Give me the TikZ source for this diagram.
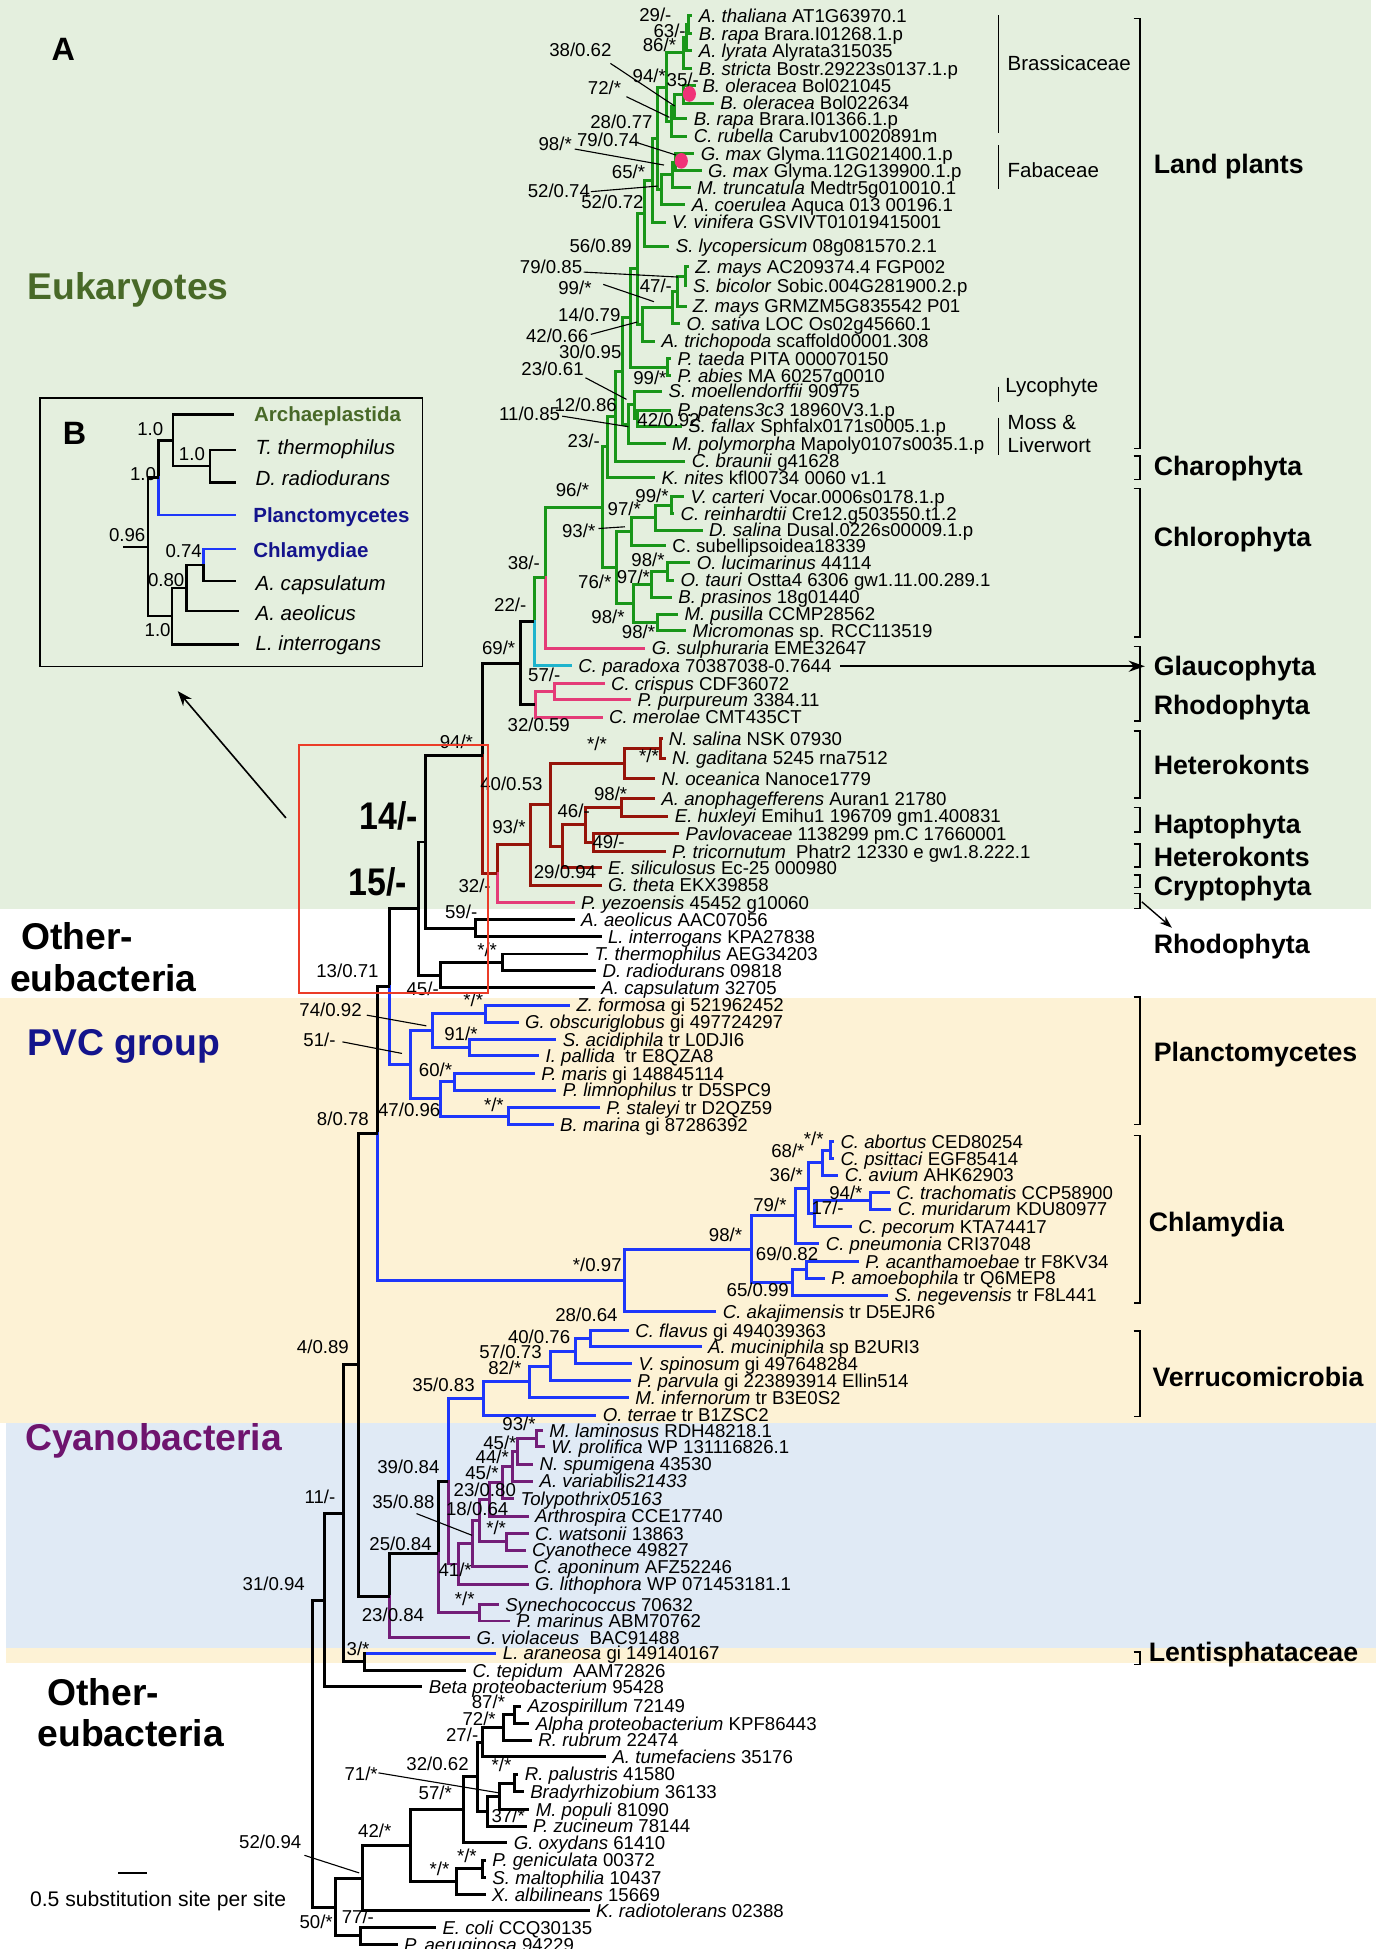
\documentclass[tikz,border=0pt]{standalone}
\usepackage{fontspec}
\usepackage{graphicx}
\setmainfont{Liberation Sans}
\usetikzlibrary{arrows.meta}
\definecolor{bggreen}{RGB}{228,239,222}
\definecolor{bgcream}{RGB}{253,242,213}
\definecolor{bgblue}{RGB}{224,234,245}
\definecolor{cgreen}{RGB}{25,150,25}
\definecolor{cpink}{RGB}{228,60,120}
\definecolor{ccyan}{RGB}{30,180,205}
\definecolor{cred}{RGB}{150,20,10}
\definecolor{cblue}{RGB}{30,55,250}
\definecolor{cpurple}{RGB}{115,30,120}
\definecolor{teuk}{RGB}{72,105,40}
\definecolor{tpvc}{RGB}{20,20,140}
\definecolor{tcyano}{RGB}{110,20,110}
\definecolor{cbox}{RGB}{235,60,40}
\definecolor{cdot}{RGB}{240,50,120}
\tikzset{
  br/.style={line width=2.4pt, line cap=butt},
  vbs/.style={line width=2.4pt, line cap=rect},
  tl/.style={anchor=west, inner xsep=4pt, inner ysep=0pt, text height=10.8pt, text depth=0pt, font=\fontsize{15}{17}\selectfont, text=black},
  sl/.style={anchor=west, inner sep=0pt, text height=10.8pt, text depth=0pt, font=\fontsize{15}{17}\selectfont},
  ldr/.style={line width=0.9pt, black},
  brks/.style={line width=1.1pt, black},
  grp/.style={anchor=west, inner sep=0pt, text height=15.5pt, text depth=0pt, font=\fontsize{21.5}{25}\selectfont\bfseries},
  sgrp/.style={anchor=west, inner sep=0pt, text height=11.8pt, text depth=0pt, font=\fontsize{16.5}{19}\selectfont},
  big/.style={anchor=west, inner sep=0pt, text height=21.6pt, text depth=0pt, font=\fontsize{30}{34}\selectfont\bfseries},
  bold14/.style={anchor=west, inner sep=0pt, text height=22pt, text depth=0pt, font=\fontsize{31}{34}\selectfont\bfseries},
  ins/.style={anchor=west, inner sep=0pt, text height=11.8pt, text depth=0pt, font=\fontsize{16.5}{19}\selectfont},
  insv/.style={anchor=west, inner sep=0pt, text height=10.8pt, text depth=0pt, font=\fontsize{15}{18}\selectfont},
  ib/.style={line width=2pt, line cap=butt},
  ibv/.style={line width=2pt, line cap=rect},
}
\newcommand\tipb[6]{\draw[br,#1] (#2,#5) -- (#3,#5) node[tl] (#4) {#6};}
\newcommand\vbr[4]{\draw[vbs,#1] (#2,#3) -- (#2,#4);}
\newcommand\hbr[4]{\draw[br,#1] (#2,#4) -- (#3,#4);}
\newcommand\slab[3]{\node[sl] at (#1,#2) {#3};}
\newcommand\brk[2]{\draw[brks] (912,#1) -- (917,#1) -- (917,#2) -- (912,#2);}
\begin{document}
\begin{tikzpicture}[x=1pt,y=-1pt]
\useasboundingbox (0,0) rectangle (1112,1568);
% backgrounds
\fill[bggreen] (0,0) rectangle (1103,731);
\fill[bgcream] (0,803) rectangle (1107,1145);
\fill[bgblue] (5,1145) rectangle (1107,1326);
\fill[bgcream] (5,1326) rectangle (1107,1338);

% ===== Land plants =====
\tipb{cgreen}{554}{557}{t1}{12.5}{\textit{A. thaliana} AT1G63970.1}
\tipb{cgreen}{554}{557}{t2}{27}{\textit{B. rapa} Brara.I01268.1.p}
\vbr{cgreen}{554}{12.5}{27}
\hbr{cgreen}{552}{554}{19.75}
\tipb{cgreen}{552}{557}{t3}{40.5}{\textit{A. lyrata} Alyrata315035}
\vbr{cgreen}{552}{19.75}{40.5}
\hbr{cgreen}{550}{552}{30.1}
\tipb{cgreen}{550}{557}{t4}{55}{\textit{B. stricta} Bostr.29223s0137.1.p}
\vbr{cgreen}{550}{30.1}{55}
\hbr{cgreen}{536}{550}{42.6}
\tipb{cgreen}{550}{560}{t5}{69}{\textit{B. oleracea} Bol021045}
\tipb{cgreen}{550}{574.4}{t6}{83}{\textit{B. oleracea} Bol022634}
\vbr{cgreen}{550}{69}{83}
\hbr{cgreen}{542.8}{550}{76}
\tipb{cgreen}{542.8}{553}{t7}{95.5}{\textit{B. rapa} Brara.I01366.1.p}
\vbr{cgreen}{542.8}{76}{95.5}
\hbr{cgreen}{540}{542.8}{85.75}
\tipb{cgreen}{540}{553}{t8}{109.5}{\textit{C. rubella} Carubv10020891m}
\vbr{cgreen}{540}{85.75}{109.5}
\hbr{cgreen}{536}{540}{97.6}
\vbr{cgreen}{536}{42.6}{97.6}
\hbr{cgreen}{529}{536}{70.1}
\tipb{cgreen}{543.7}{558.6}{t9}{123.5}{\textit{G. max} Glyma.11G021400.1.p}
\tipb{cgreen}{543.7}{564.4}{t10}{137.3}{\textit{G. max} Glyma.12G139900.1.p}
\vbr{cgreen}{543.7}{123.5}{137.3}
\hbr{cgreen}{541.4}{543.7}{130.4}
\tipb{cgreen}{541.4}{555.7}{t11}{151}{\textit{M. truncatula} Medtr5g010010.1}
\vbr{cgreen}{541.4}{130.4}{151}
\hbr{cgreen}{531.9}{541.4}{140.7}
\tipb{cgreen}{531.9}{551.4}{t12}{164.5}{\textit{A. coerulea} Aquca 013 00196.1}
\vbr{cgreen}{531.9}{140.7}{164.5}
\hbr{cgreen}{529}{531.9}{152.6}
\vbr{cgreen}{529}{70.1}{152.6}
\hbr{cgreen}{524.7}{529}{111.35}
\tipb{cgreen}{524.7}{535.6}{t13}{178.7}{\textit{V. vinifera} GSVIVT01019415001}
\vbr{cgreen}{524.7}{111.35}{178.7}
\hbr{cgreen}{518.4}{524.7}{145}
\tipb{cgreen}{518.4}{538.5}{t14}{198}{\textit{S. lycopersicum} 08g081570.2.1}
\vbr{cgreen}{518.4}{145}{198}
\hbr{cgreen}{512.6}{518.4}{171.5}
\tipb{cgreen}{551.4}{554.3}{t15}{214.6}{\textit{Z. mays} AC209374.4 FGP002}
\tipb{cgreen}{551.4}{552.5}{t16}{230}{\textit{S. bicolor} Sobic.004G281900.2.p}
\vbr{cgreen}{551.4}{214.6}{230}
\hbr{cgreen}{545}{551.4}{222.3}
\tipb{cgreen}{545}{552.3}{t17}{246.2}{\textit{Z. mays} GRMZM5G835542 P01}
\vbr{cgreen}{545}{222.3}{246.2}
\hbr{cgreen}{541.4}{545}{234.25}
\tipb{cgreen}{541.4}{547.1}{t18}{260.5}{\textit{O. sativa} LOC Os02g45660.1}
\vbr{cgreen}{541.4}{234.25}{260.5}
\hbr{cgreen}{517}{541.4}{247.4}
\tipb{cgreen}{517}{527}{t19}{274.4}{\textit{A. trichopoda} scaffold00001.308}
\vbr{cgreen}{517}{247.4}{274.4}
\hbr{cgreen}{512.6}{517}{260.9}
\vbr{cgreen}{512.6}{171.5}{260.9}
\hbr{cgreen}{506.9}{512.6}{216.2}
\tipb{cgreen}{537}{540}{t20}{288.6}{\textit{P. taeda} PITA 000070150}
\tipb{cgreen}{537}{540}{t21}{302}{\textit{P. abies} MA 60257g0010}
\vbr{cgreen}{537}{288.6}{302}
\hbr{cgreen}{506.9}{537}{295.3}
\vbr{cgreen}{506.9}{216.2}{295.3}
\hbr{cgreen}{501.1}{506.9}{255.75}
\tipb{cgreen}{510.3}{532.8}{t22}{314.6}{\textit{S. moellendorffii} 90975}
\tipb{cgreen}{512.6}{540}{t23}{330}{\textit{P. patens3c3} 18960V3.1.p}
\tipb{cgreen}{512.6}{548.6}{t24}{342.8}{\textit{S. fallax} Sphfalx0171s0005.1.p}
\vbr{cgreen}{512.6}{330}{342.8}
\hbr{cgreen}{510.3}{512.6}{336.4}
\vbr{cgreen}{510.3}{314.6}{336.4}
\hbr{cgreen}{505.5}{510.3}{325.5}
\tipb{cgreen}{505.5}{535.6}{t25}{357}{\textit{M. polymorpha} Mapoly0107s0035.1.p}
\vbr{cgreen}{505.5}{325.5}{357}
\hbr{cgreen}{501.1}{505.5}{341.25}
\vbr{cgreen}{501.1}{255.75}{341.25}
\hbr{cgreen}{495.4}{501.1}{298.5}
\tipb{cgreen}{495.4}{551.4}{t26}{371}{\textit{C. braunii} g41628}
\vbr{cgreen}{495.4}{298.5}{371}
\hbr{cgreen}{489.1}{495.4}{334.75}
\tipb{cgreen}{489.1}{527}{t27}{384}{\textit{K. nites} kfl00734 0060 v1.1}
\vbr{cgreen}{489.1}{334.75}{384}
\hbr{cgreen}{484.8}{489.1}{359.4}
% ===== Chlorophyta =====
\tipb{cgreen}{540.6}{550.5}{t28}{399.7}{\textit{V. carteri} Vocar.0006s0178.1.p}
\tipb{cgreen}{540.6}{542.3}{t29}{413.1}{\textit{C. reinhardtii} Cre12.g503550.t1.2}
\vbr{cgreen}{540.6}{399.7}{413.1}
\hbr{cgreen}{527.5}{540.6}{406.4}
\tipb{cgreen}{527.5}{565.2}{t30}{426.5}{\textit{D. salina} Dusal.0226s00009.1.p}
\vbr{cgreen}{527.5}{406.4}{426.5}
\hbr{cgreen}{507.8}{527.5}{416.45}
\tipb{cgreen}{507.8}{535.7}{t31}{439}{C. subellipsoidea18339}
\vbr{cgreen}{507.8}{416.45}{439}
\hbr{cgreen}{495.6}{507.8}{427.7}
\tipb{cgreen}{537.3}{555.4}{t32}{452.8}{\textit{O. lucimarinus} 44114}
\tipb{cgreen}{537.3}{542.3}{t33}{466.7}{\textit{O. tauri} Ostta4 6306 gw1.11.00.289.1}
\vbr{cgreen}{537.3}{452.8}{466.7}
\hbr{cgreen}{524.2}{537.3}{459.75}
\tipb{cgreen}{524.2}{540.6}{t34}{480.5}{\textit{B. prasinos} 18g01440}
\vbr{cgreen}{524.2}{459.75}{480.5}
\hbr{cgreen}{509.4}{524.2}{470.1}
\tipb{cgreen}{529.1}{545.5}{t35}{494}{\textit{M. pusilla} CCMP28562}
\tipb{cgreen}{529.1}{552.1}{t36}{507.5}{\textit{Micromonas} sp. RCC113519}
\vbr{cgreen}{529.1}{494}{507.5}
\hbr{cgreen}{509.4}{529.1}{500.75}
\vbr{cgreen}{509.4}{470.1}{500.75}
\hbr{cgreen}{495.6}{509.4}{485.4}
\vbr{cgreen}{495.6}{427.7}{485.4}
\hbr{cgreen}{484.8}{495.6}{456.55}
\vbr{cgreen}{484.8}{359.4}{456.55}
\hbr{cgreen}{438.8}{484.8}{408}
\tipb{cpink}{438.8}{519.3}{t37}{521.5}{\textit{G. sulphuraria} EME32647}
\vbr{cgreen}{438.8}{408}{464.75}
\vbr{cpink}{438.8}{464.75}{521.5}
\hbr{cgreen}{429.9}{438.8}{464.75}
\tipb{ccyan}{429.9}{460.2}{t38}{535.5}{\textit{C. paradoxa} 70387038-0.7644}
\vbr{cgreen}{429.9}{464.75}{500.1}
\vbr{ccyan}{429.9}{500.1}{535.5}
\hbr{black}{418.4}{429.9}{500.1}
% Rhodophyta
\tipb{cpink}{446.4}{486.4}{t39}{550}{\textit{C. crispus} CDF36072}
\tipb{cpink}{446.4}{507.8}{t40}{563}{\textit{P. purpureum} 3384.11}
\vbr{cpink}{446.4}{550}{563}
\hbr{cpink}{430.6}{446.4}{556.5}
\tipb{cpink}{430.6}{484.8}{t41}{577}{\textit{C. merolae} CMT435CT}
\vbr{cpink}{430.6}{556.5}{577}
\hbr{black}{418.4}{430.6}{566.75}
\vbr{black}{418.4}{500.1}{566.75}
\hbr{black}{388.2}{418.4}{533.4}
% Heterokonts etc
\tipb{cred}{531.3}{533}{t42}{594.5}{\textit{N. salina} NSK 07930}
\tipb{cred}{531.3}{535.6}{t43}{610}{\textit{N. gaditana} 5245 rna7512}
\vbr{cred}{531.3}{594.5}{610}
\hbr{cred}{502.5}{531.3}{602.25}
\tipb{cred}{502.5}{527}{t44}{626.3}{\textit{N. oceanica} Nanoce1779}
\vbr{cred}{502.5}{602.25}{626.3}
\hbr{cred}{443}{502.5}{614.3}
\tipb{cred}{499.9}{527}{t45}{642.4}{\textit{A. anophagefferens} Auran1 21780}
\tipb{cred}{499.9}{537.8}{t46}{656.5}{\textit{E. huxleyi} Emihu1 196709 gm1.400831}
\vbr{cred}{499.9}{642.4}{656.5}
\hbr{cred}{471}{499.9}{649.45}
\tipb{cred}{477.5}{546.4}{t47}{670.5}{\textit{Pavlovaceae} 1138299 pm.C 17660001}
\tipb{cred}{477.5}{535.6}{t48}{685}{\textit{P. tricornutum}\ \ Phatr2 12330 e gw1.8.222.1}
\vbr{cred}{477.5}{670.5}{685}
\hbr{cred}{471}{477.5}{677.75}
\vbr{cred}{471}{649.45}{677.75}
\hbr{cred}{452.9}{471}{663.6}
\tipb{cred}{452.9}{484}{t49}{698}{\textit{E. siliculosus} Ec-25 000980}
\vbr{cred}{452.9}{663.6}{698}
\hbr{cred}{443}{452.9}{680.8}
\vbr{cred}{443}{614.3}{680.8}
\hbr{cred}{427}{443}{647.55}
\tipb{cred}{427}{484}{t50}{712}{\textit{G. theta} EKX39858}
\vbr{cred}{427}{647.55}{712}
\hbr{cred}{399.9}{427}{679.8}
\tipb{cpink}{399.9}{462.4}{t51}{726}{\textit{P. yezoensis} 45452 g10060}
\vbr{cred}{399.9}{679.8}{702.9}
\vbr{cpink}{399.9}{702.9}{726}
\hbr{cred}{388.2}{399.9}{702.9}
\vbr{black}{388.2}{533.4}{608}
\vbr{cred}{388.2}{608}{702.9}
\hbr{black}{342.5}{388.2}{608}
% other eubacteria (upper)
\tipb{black}{382.6}{462.4}{t52}{740}{\textit{A. aeolicus} AAC07056}
\tipb{black}{382.6}{484}{t53}{753.5}{\textit{L. interrogans} KPA27838}
\vbr{black}{382.6}{740}{753.5}
\hbr{black}{342.5}{382.6}{746.75}
\vbr{black}{342.5}{608}{746.75}
\hbr{black}{336.5}{342.5}{677.4}
\tipb{black}{404.2}{473.1}{t54}{767.5}{\textit{T. thermophilus} AEG34203}
\tipb{black}{404.2}{479.6}{t55}{781}{\textit{D. radiodurans} 09818}
\vbr{black}{404.2}{767.5}{781}
\hbr{black}{354.6}{404.2}{774.25}
\tipb{black}{354.6}{478.7}{t56}{794.5}{\textit{A. capsulatum} 32705}
\vbr{black}{354.6}{774.25}{794.5}
\hbr{black}{336.5}{354.6}{784.4}
\vbr{black}{336.5}{677.4}{784.4}
\hbr{black}{313.7}{336.5}{730.9}
% Planctomycetes
\tipb{cblue}{390.2}{458.6}{t57}{808.6}{\textit{Z. formosa} gi 521962452}
\tipb{cblue}{390.2}{417.2}{t58}{822.4}{\textit{G. obscuriglobus} gi 497724297}
\vbr{cblue}{390.2}{808.6}{822.4}
\hbr{cblue}{348.3}{390.2}{815.5}
\tipb{cblue}{378}{447.7}{t59}{836.5}{\textit{S. acidiphila} tr L0DJI6}
\tipb{cblue}{378}{433.8}{t60}{849.5}{\textit{I. pallida}\ \ tr E8QZA8}
\vbr{cblue}{378}{836.5}{849.5}
\hbr{cblue}{348.3}{378}{843}
\vbr{cblue}{348.3}{815.5}{843}
\hbr{cblue}{330}{348.3}{829.25}
\tipb{cblue}{365.7}{430.3}{t61}{863.5}{\textit{P. maris} gi 148845114}
\tipb{cblue}{365.7}{447.7}{t62}{877}{\textit{P. limnophilus} tr D5SPC9}
\vbr{cblue}{365.7}{863.5}{877}
\hbr{cblue}{354}{365.7}{870.25}
\tipb{cblue}{409.3}{482.6}{t63}{891}{\textit{P. staleyi} tr D2QZ59}
\tipb{cblue}{409.3}{445.5}{t64}{905}{\textit{B. marina} gi 87286392}
\vbr{cblue}{409.3}{891}{905}
\hbr{cblue}{354}{409.3}{898}
\vbr{cblue}{354}{870.25}{898}
\hbr{cblue}{330}{354}{884.1}
\vbr{cblue}{330}{829.25}{884.1}
\hbr{cblue}{313.7}{330}{856.7}
\vbr{black}{313.7}{730.9}{793.8}
\vbr{cblue}{313.7}{793.8}{856.7}
\hbr{black}{303.8}{313.7}{793.8}
% Chlamydiae
\tipb{cblue}{668.5}{671}{t65}{918.6}{\textit{C. abortus} CED80254}
\tipb{cblue}{668.5}{671}{t66}{932}{\textit{C. psittaci} EGF85414}
\vbr{cblue}{668.5}{918.6}{932}
\hbr{cblue}{661.4}{668.5}{925.3}
\tipb{cblue}{661.4}{674.5}{t67}{945.5}{\textit{C. avium} AHK62903}
\vbr{cblue}{661.4}{925.3}{945.5}
\hbr{cblue}{650.5}{661.4}{935.4}
\tipb{cblue}{700.7}{715.9}{t68}{959.4}{\textit{C. trachomatis} CCP58900}
\tipb{cblue}{700.7}{717.2}{t69}{972.8}{\textit{C. muridarum} KDU80977}
\vbr{cblue}{700.7}{959.4}{972.8}
\hbr{cblue}{654.9}{700.7}{966.1}
\tipb{cblue}{654.9}{685.4}{t70}{987}{\textit{C. pecorum} KTA74417}
\vbr{cblue}{654.9}{966.1}{987}
\hbr{cblue}{650.5}{654.9}{976.55}
\vbr{cblue}{650.5}{935.4}{976.55}
\hbr{cblue}{639.6}{650.5}{956}
\tipb{cblue}{639.6}{659.2}{t71}{1000.5}{\textit{C. pneumonia} CRI37048}
\vbr{cblue}{639.6}{956}{1000.5}
\hbr{cblue}{604.7}{639.6}{978.25}
\tipb{cblue}{649.2}{691}{t72}{1015}{\textit{P. acanthamoebae} tr F8KV34}
\tipb{cblue}{649.2}{663.6}{t73}{1028.3}{\textit{P. amoebophila} tr Q6MEP8}
\vbr{cblue}{649.2}{1015}{1028.3}
\hbr{cblue}{637.4}{649.2}{1021.65}
\tipb{cblue}{637.4}{714.6}{t74}{1042}{\textit{S. negevensis} tr F8L441}
\vbr{cblue}{637.4}{1021.65}{1042}
\hbr{cblue}{604.7}{637.4}{1031.8}
\vbr{cblue}{604.7}{978.25}{1031.8}
\hbr{cblue}{502.2}{604.7}{1005}
\tipb{cblue}{502.2}{576.4}{t75}{1055.5}{\textit{C. akajimensis} tr D5EJR6}
\vbr{cblue}{502.2}{1005}{1055.5}
\hbr{cblue}{303.8}{502.2}{1030.25}
\vbr{black}{303.8}{793.8}{912}
\vbr{cblue}{303.8}{912}{1030.25}
\hbr{black}{288.7}{303.8}{912}
% Verrucomicrobia
\tipb{cblue}{475.2}{506}{t76}{1070.7}{\textit{C. flavus} gi 494039363}
\tipb{cblue}{475.2}{564.5}{t77}{1083.5}{\textit{A. muciniphila} sp B2URI3}
\vbr{cblue}{475.2}{1070.7}{1083.5}
\hbr{cblue}{462.9}{475.2}{1077.1}
\tipb{cblue}{462.9}{508.5}{t78}{1097}{\textit{V. spinosum} gi 497648284}
\vbr{cblue}{462.9}{1077.1}{1097}
\hbr{cblue}{442.9}{462.9}{1087}
\tipb{cblue}{442.9}{507.5}{t79}{1111}{\textit{P. parvula} gi 223893914 Ellin514}
\vbr{cblue}{442.9}{1087}{1111}
\hbr{cblue}{425.9}{442.9}{1099}
\tipb{cblue}{425.9}{506}{t80}{1124.5}{\textit{M. infernorum} tr B3E0S2}
\vbr{cblue}{425.9}{1099}{1124.5}
\hbr{cblue}{389}{425.9}{1111.75}
\tipb{cblue}{389}{479.8}{t81}{1138.5}{\textit{O. terrae} tr B1ZSC2}
\vbr{cblue}{389}{1111.75}{1138.5}
\hbr{cblue}{360.7}{389}{1125.1}
% Cyanobacteria
\tipb{cpurple}{431.5}{436.7}{t82}{1150.7}{\textit{M. laminosus} RDH48218.1}
\tipb{cpurple}{431.5}{438.3}{t83}{1163.8}{\textit{W. prolifica} WP 131116826.1}
\vbr{cpurple}{431.5}{1150.7}{1163.8}
\hbr{cpurple}{416.7}{431.5}{1157.25}
\tipb{cpurple}{416.7}{429}{t84}{1178}{\textit{N. spumigena} 43530}
\vbr{cpurple}{416.7}{1157.25}{1178}
\hbr{cpurple}{412.1}{416.7}{1167.6}
\tipb{cpurple}{412.1}{429}{t85}{1191.5}{\textit{A. variabilis21433}}
\vbr{cpurple}{412.1}{1167.6}{1191.5}
\hbr{cpurple}{404.4}{412.1}{1179.55}
\tipb{cpurple}{404.4}{413.6}{t86}{1205.6}{\textit{Tolypothrix05163}}
\vbr{cpurple}{404.4}{1179.55}{1205.6}
\hbr{cpurple}{393.6}{404.4}{1192.6}
\tipb{cpurple}{393.6}{425.3}{t87}{1219.8}{\textit{Arthrospira} CCE17740}
\vbr{cpurple}{393.6}{1192.6}{1219.8}
\hbr{cpurple}{385.9}{393.6}{1206.2}
\tipb{cpurple}{407.5}{425.3}{t88}{1233.8}{\textit{C. watsonii} 13863}
\tipb{cpurple}{407.5}{422.9}{t89}{1247.2}{\textit{Cyanothece} 49827}
\vbr{cpurple}{407.5}{1233.8}{1247.2}
\hbr{cpurple}{385.9}{407.5}{1240.5}
\vbr{cpurple}{385.9}{1206.2}{1240.5}
\hbr{cpurple}{379.8}{385.9}{1223.35}
\tipb{cpurple}{379.8}{424.4}{t90}{1260.6}{\textit{C. aponinum} AFZ52246}
\vbr{cpurple}{379.8}{1223.35}{1260.6}
\hbr{cpurple}{369}{379.8}{1242}
\tipb{cpurple}{369}{425.3}{t91}{1274.5}{\textit{G. lithophora} WP 071453181.1}
\vbr{cpurple}{369}{1242}{1274.5}
\hbr{cpurple}{360.7}{369}{1258.25}
\vbr{cblue}{360.7}{1125.1}{1191.7}
\vbr{cpurple}{360.7}{1191.7}{1258.25}
\hbr{black}{352.7}{360.7}{1191.7}
\tipb{cpurple}{385.9}{401.3}{t92}{1290.7}{\textit{Synechococcus} 70632}
\tipb{cpurple}{385.9}{410.6}{t93}{1304.1}{\textit{P. marinus} ABM70762}
\vbr{cpurple}{385.9}{1290.7}{1304.1}
\hbr{cpurple}{352.7}{385.9}{1297.4}
\vbr{black}{352.7}{1191.7}{1250}
\vbr{cpurple}{352.7}{1250}{1297.4}
\hbr{black}{313.6}{352.7}{1250}
\tipb{cpurple}{313.6}{378.2}{t94}{1317.5}{\textit{G. violaceus}\ \ BAC91488}
\vbr{black}{313.6}{1250}{1284}
\vbr{cpurple}{313.6}{1284}{1317.5}
\hbr{black}{288.7}{313.6}{1284}
\vbr{black}{288.7}{912}{1284}
\hbr{black}{276.6}{288.7}{1098}
% lower other eubacteria
\tipb{cblue}{293.5}{399.4}{t95}{1330}{\textit{L. araneosa} gi 149140167}
\tipb{black}{293.5}{375.1}{t96}{1344}{\textit{C. tepidum}\ \ AAM72826}
\vbr{black}{293.5}{1330}{1344}
\hbr{black}{276.6}{293.5}{1337}
\vbr{black}{276.6}{1098}{1337}
\hbr{black}{261.2}{276.6}{1217.5}
\tipb{black}{261.2}{339.8}{t97}{1357}{\textit{Beta proteobacterium} 95428}
\vbr{black}{261.2}{1217.5}{1357}
\hbr{black}{251.5}{261.2}{1287.25}
\tipb{black}{414}{419.2}{t98}{1372.7}{\textit{Azospirillum} 72149}
\tipb{black}{414}{425.9}{t99}{1386.6}{\textit{Alpha proteobacterium} KPF86443}
\vbr{black}{414}{1372.7}{1386.6}
\hbr{black}{405.1}{414}{1379.65}
\tipb{black}{405.1}{428}{t100}{1400}{\textit{R. rubrum} 22474}
\vbr{black}{405.1}{1379.65}{1400}
\hbr{black}{388}{405.1}{1389.8}
\tipb{black}{388}{487.6}{t101}{1413.4}{\textit{A. tumefaciens} 35176}
\vbr{black}{388}{1389.8}{1413.4}
\hbr{black}{384.5}{388}{1401.6}
\tipb{black}{414}{417}{t102}{1427.4}{\textit{R. palustris} 41580}
\tipb{black}{414}{421.4}{t103}{1441.6}{\textit{Bradyrhizobium} 36133}
\vbr{black}{414}{1427.4}{1441.6}
\hbr{black}{401.6}{414}{1434.5}
\tipb{black}{401.6}{425.9}{t104}{1455.8}{\textit{M. populi} 81090}
\vbr{black}{401.6}{1434.5}{1455.8}
\hbr{black}{391.9}{401.6}{1445.15}
\tipb{black}{391.9}{423.7}{t105}{1469.2}{\textit{P. zucineum} 78144}
\vbr{black}{391.9}{1445.15}{1469.2}
\hbr{black}{384.5}{391.9}{1457.2}
\vbr{black}{384.5}{1401.6}{1457.2}
\hbr{black}{372.9}{384.5}{1429.4}
\tipb{black}{372.9}{408.2}{t106}{1482.6}{\textit{G. oxydans} 61410}
\vbr{black}{372.9}{1429.4}{1482.6}
\hbr{black}{330.1}{372.9}{1456}
\tipb{black}{388.3}{391}{t107}{1496.6}{\textit{P. geniculata} 00372}
\tipb{black}{388.3}{391}{t108}{1510.5}{\textit{S. maltophilia} 10437}
\vbr{black}{388.3}{1496.6}{1510.5}
\hbr{black}{367.2}{388.3}{1503.55}
\tipb{black}{367.2}{390.6}{t109}{1524}{\textit{X. albilineans} 15669}
\vbr{black}{367.2}{1503.55}{1524}
\hbr{black}{330.1}{367.2}{1513.8}
\vbr{black}{330.1}{1456}{1513.8}
\hbr{black}{291.3}{330.1}{1484.9}
\tipb{black}{291.3}{474.4}{t110}{1537.4}{\textit{K. radiotolerans} 02388}
\vbr{black}{291.3}{1484.9}{1537.4}
\hbr{black}{270.1}{291.3}{1511.15}
\tipb{black}{290.4}{350.8}{t111}{1550.8}{\textit{E. coli} CCQ30135}
\tipb{black}{290.4}{320}{t112}{1564.2}{\textit{P. aeruginosa} 94229}
\vbr{black}{290.4}{1550.8}{1564.2}
\hbr{black}{270.1}{290.4}{1557.5}
\vbr{black}{270.1}{1511.15}{1557.5}
\hbr{black}{251.5}{270.1}{1534.3}
\vbr{black}{251.5}{1287.25}{1534.3}

% pink dots
\fill[cdot] (554.6,75.6) ellipse [x radius=5.3, y radius=6.3];
\fill[cdot] (548.1,129.4) ellipse [x radius=5.3, y radius=6.3];

% support values
\slab{514.1}{12.1}{29/-}
\slab{525.6}{24.7}{63/-}
\slab{517}{36.2}{86/*}
\slab{441.7}{40.2}{38/0.62}
\slab{508.8}{61.2}{94/*}
\slab{536.2}{63.8}{35/-}
\slab{472.8}{70.3}{72/*}
\slab{474.7}{97.9}{28/0.77}
\slab{464.1}{112.1}{79/0.74}
\slab{433.1}{115.9}{98/*}
\slab{492.1}{138.1}{65/*}
\slab{424.4}{153.4}{52/0.74}
\slab{467.5}{162.3}{52/0.72}
\slab{458}{197.5}{56/0.89}
\slab{418.1}{214.6}{79/0.85}
\slab{449}{231.5}{99/*}
\slab{514.5}{229.6}{47/-}
\slab{448.9}{252.9}{14/0.79}
\slab{423}{269.8}{42/0.66}
\slab{449.7}{283.2}{30/0.95}
\slab{419.3}{296.7}{23/0.61}
\slab{509.3}{303.9}{99/*}
\slab{446}{325.4}{12/0.86}
\slab{401.4}{332.6}{11/0.85}
\slab{512.6}{337.4}{42/0.92}
\slab{456.5}{354.9}{23/-}
\slab{447}{394.3}{96/*}
\slab{511}{398.9}{99/*}
\slab{488.7}{409.6}{97/*}
\slab{452}{427.3}{93/*}
\slab{507.8}{450.7}{98/*}
\slab{408.3}{452.5}{38/-}
\slab{496}{464.1}{97/*}
\slab{465}{468.1}{76/*}
\slab{397.4}{486.9}{22/-}
\slab{475.6}{496.3}{98/*}
\slab{500.2}{508.3}{98/*}
\slab{387.6}{521.2}{69/*}
\slab{424.7}{543.2}{57/-}
\slab{408.2}{582.9}{32/0.59}
\slab{353.6}{596.8}{94/*}
\slab{472.1}{598.7}{*/*}
\slab{514}{608.3}{*/*}
\slab{386.2}{630.9}{40/0.53}
\slab{477.7}{638.4}{98/*}
\slab{448.4}{652.6}{46/-}
\slab{395.9}{665.2}{93/*}
\slab{476.5}{677.3}{49/-}
\slab{429.3}{701.4}{29/0.94}
\slab{368.7}{712.9}{32/-}
\slab{357.9}{733.6}{59/-}
\slab{383.8}{764.4}{*/*}
\slab{254.3}{781.1}{13/0.71}
\slab{326.9}{795.3}{45/-}
\slab{372.6}{804.6}{*/*}
\slab{240.7}{812.7}{74/0.92}
\slab{357.3}{831.4}{91/*}
\slab{243.9}{836.8}{51/-}
\slab{336.8}{861}{60/*}
\slab{389.2}{889.1}{*/*}
\slab{304}{893.1}{47/0.96}
\slab{254.8}{899.8}{8/0.78}
\slab{646.5}{916.5}{*/*}
\slab{620.3}{926.1}{68/*}
\slab{619}{945.5}{36/*}
\slab{667}{959.4}{94/*}
\slab{605.9}{969.6}{79/*}
\slab{652.7}{971.7}{17/-}
\slab{570.1}{993.7}{98/*}
\slab{608}{1008.5}{69/0.82}
\slab{460.7}{1017.3}{*/0.97}
\slab{584.4}{1038}{65/0.99}
\slab{446.6}{1058.1}{28/0.64}
\slab{408.5}{1075.6}{40/0.76}
\slab{238.7}{1083.6}{4/0.89}
\slab{385.5}{1087.6}{57/0.73}
\slab{392.6}{1100.2}{82/*}
\slab{331.6}{1113.9}{35/0.83}
\slab{404}{1145.8}{93/*}
\slab{388.6}{1160.9}{45/*}
\slab{382.5}{1172.1}{44/*}
\slab{303.3}{1180.2}{39/0.84}
\slab{374.2}{1185}{45/*}
\slab{364.8}{1198.4}{23/0.80}
\slab{244.8}{1204.3}{11/-}
\slab{299.3}{1208.3}{35/0.88}
\slab{358.7}{1213.7}{18/0.64}
\slab{391}{1229}{*/*}
\slab{297}{1241.9}{25/0.84}
\slab{352.6}{1263.3}{41/*}
\slab{195}{1274}{31/0.94}
\slab{365.8}{1286.1}{*/*}
\slab{290.9}{1299.5}{23/0.84}
\slab{278.7}{1326.4}{3/*}
\slab{379.4}{1369.2}{87/*}
\slab{371.9}{1382.6}{72/*}
\slab{358.7}{1396}{27/-}
\slab{326.8}{1418.8}{32/0.62}
\slab{395.3}{1420.1}{*/*}
\slab{277}{1427.4}{71/*}
\slab{336.6}{1442.4}{57/*}
\slab{395.3}{1461.2}{37/*}
\slab{288}{1472.5}{42/*}
\slab{192.2}{1481.8}{52/0.94}
\slab{367.5}{1492.6}{*/*}
\slab{345.4}{1503.3}{*/*}
\slab{274.8}{1541.7}{77/-}
\slab{240.8}{1546.2}{50/*}
\node[bold14] (n14) at (289,656.6) {\scalebox{0.88}[1]{14/-}};
\node[bold14] (n15) at (280.3,709.4) {\scalebox{0.88}[1]{15/-}};

% leaders
\draw[ldr] (491.1,51) -- (542.8,85.3);
\draw[ldr] (504,77.8) -- (538.5,94.4);
\draw[ldr] (512.6,114.8) -- (543.7,124.7);
\draw[ldr] (462.4,119.9) -- (534.2,132.8);
\draw[ldr] (475.3,154.2) -- (529,149.7);
\draw[ldr] (469.5,218.9) -- (545.7,222.9);
\draw[ldr] (485.3,228.8) -- (526.1,242.7);
\draw[ldr] (475.3,269) -- (512.6,259.1);
\draw[ldr] (471,303.9) -- (504,321.3);
\draw[ldr] (452.3,334.8) -- (505.5,343.3);
\draw[ldr] (481.5,425.2) -- (502.8,423.8);
\draw[ldr] (295.1,816.7) -- (343,825.3);
\draw[ldr] (275.5,838.2) -- (323.4,847.5);
\draw[ldr] (335.1,1217.7) -- (379.8,1235.2);
\draw[ldr] (304.5,1426.3) -- (401.6,1442.4);
\draw[ldr] (244.9,1492.6) -- (289,1506.8);

% red box and arrow to inset
\draw[cbox, line width=1.2pt] (240.4,599.5) rectangle (392.5,798.8);
\coordinate (ra) at (230,658);
\coordinate (rb) at (143,556);
\draw[line width=1.3pt, -{Stealth[length=12pt,width=9pt]}] (ra) -- (rb);

% right brackets and labels
\brk{15}{361}
\brk{367}{385.6}
\brk{393}{512.5}
\brk{520}{580}
\brk{588}{642}
\brk{649.4}{669.3}
\brk{679}{697.6}
\brk{704}{714}
\brk{719}{731}
\brk{802}{904.5}
\brk{913.4}{1048.2}
\brk{1070.8}{1139.8}
\brk{1329}{1339}
\draw[brks] (803.5,12.4) -- (803.5,107);
\draw[brks] (803.5,117) -- (803.5,151.8);
\draw[brks] (803.5,311) -- (803.5,323.5);
\draw[brks] (803.5,336) -- (803.5,365.7);
\node[sgrp] (brass) at (810.5,50.8) {Brassicaceae};
\node[sgrp] (faba) at (810.5,136.8) {Fabaceae};
\node[sgrp] (lyco) at (808.7,309.5) {Lycophyte};
\node[sgrp] (moss) at (810.5,339.4) {Moss \&};
\node[sgrp] (liver) at (810.5,358.3) {Liverwort};
\node[grp] (g1) at (928,132) {Land plants};
\node[grp] (g2) at (928,374.4) {Charophyta};
\node[grp] (g3) at (928,432) {Chlorophyta};
\node[grp] (g4) at (928,535.5) {Glaucophyta};
\node[grp] (g5) at (928,567.3) {Rhodophyta};
\node[grp] (g6) at (928,615.5) {Heterokonts};
\node[grp] (g7) at (928,662.8) {Haptophyta};
\node[grp] (g8) at (928,689.2) {Heterokonts};
\node[grp] (g9) at (928,712.6) {Cryptophyta};
\node[grp] (g10) at (928,759) {Rhodophyta};
\node[grp] (g11) at (928,846) {Planctomycetes};
\node[grp] (g12) at (924,983) {Chlamydia};
\node[grp] (g13) at (927,1108) {Verrucomicrobia};
\node[grp] (g14) at (924,1329) {Lentisphataceae};
\coordinate (ga) at (676,536);
\coordinate (gb) at (921,536);
\draw[line width=1.3pt, -{Stealth[length=13pt,width=9pt]}] (ga) -- (gb);
\coordinate (rha) at (918.6,725.5);
\coordinate (rhb) at (942.8,746.4);
\draw[line width=1.1pt, -{Stealth[length=10pt,width=7pt]}] (rha) -- (rhb);

% left labels
\node[anchor=center, inner sep=0pt, font=\fontsize{26}{30}\selectfont\bfseries] (A) at (51,40) {A};
\node[big, text=teuk] (euk) at (22,230) {Eukaryotes};
\node[big] (oth1) at (17,753) {Other-};
\node[big] (eub1) at (8,787) {eubacteria};
\node[big, text=tpvc] (pvc) at (22,838) {PVC group};
\node[big, text=tcyano] (cya) at (20,1156) {Cyanobacteria};
\node[big] (oth2) at (38,1361) {Other-};
\node[big] (eub2) at (30,1394) {eubacteria};
\draw[line width=2pt] (95,1507) -- (118,1507);
\node[sgrp, font=\fontsize{17}{20}\selectfont] (scl) at (24,1528) {0.5 substitution site per site};

% inset B
\draw[line width=1.2pt] (32,320) rectangle (340,536);
\node[anchor=center, inner sep=0pt, font=\fontsize{26}{30}\selectfont\bfseries] (B) at (60,349) {B};
\draw[ib] (139.2,333.4) -- (188.1,333.4);
\node[ins, text=teuk, font=\fontsize{16.5}{19}\selectfont\bfseries] (ia) at (204.2,333.4) {Archaeplastida};
\draw[ib] (168.8,362) -- (190.2,362);
\node[ins] (ib1) at (205.5,360) {\textit{T. thermophilus}};
\draw[ib] (168.8,388) -- (190.2,388);
\node[ins] (ib2) at (205.5,385) {\textit{D. radiodurans}};
\draw[ibv] (168.8,362) -- (168.8,388);
\draw[ib] (139.2,375) -- (168.8,375);
\draw[ibv] (139.2,333.4) -- (139.2,375);
\draw[ib] (127.7,354.2) -- (139.2,354.2);
\draw[ib, cblue] (127.7,414.4) -- (190.2,414.4);
\node[ins, text=tpvc, font=\fontsize{16.5}{19}\selectfont\bfseries] (ip) at (203.6,414.4) {Planctomycetes};
\draw[ibv] (127.7,354.2) -- (127.7,384.3);
\draw[ibv, cblue] (127.7,384.3) -- (127.7,414.4);
\draw[ib] (118.9,384.3) -- (127.7,384.3);
\draw[ib, cblue] (163.9,441.7) -- (190.2,441.7);
\node[ins, text=tpvc, font=\fontsize{16.5}{19}\selectfont\bfseries] (ic) at (203.6,442.5) {Chlamydiae};
\draw[ib] (163.9,467.5) -- (190.2,467.5);
\node[ins] (ic2) at (205.5,469) {\textit{A. capsulatum}};
\draw[ibv, cblue] (163.9,441.7) -- (163.9,454.6);
\draw[ibv] (163.9,454.6) -- (163.9,467.5);
\draw[ib] (150,454.6) -- (163.9,454.6);
\draw[ib] (150,491.6) -- (192.1,491.6);
\node[ins] (ic3) at (205.5,493) {\textit{A. aeolicus}};
\draw[ibv] (150,454.6) -- (150,491.6);
\draw[ib] (138.4,473.1) -- (150,473.1);
\draw[ib] (138.4,518.4) -- (192.1,518.4);
\node[ins] (ic4) at (205.5,517.5) {\textit{L. interrogans}};
\draw[ibv] (138.4,473.1) -- (138.4,518.4);
\draw[ib] (118.9,495.75) -- (138.4,495.75);
\draw[ibv] (118.9,384.3) -- (118.9,495.75);
\draw[ib] (99,440) -- (118.9,440);
\node[insv] at (110.3,344.6) {1.0};
\node[insv] at (143.8,364.7) {1.0};
\node[insv] at (104.4,380.8) {1.0};
\node[insv] at (87.5,430.5) {0.96};
\node[insv] at (133,443.3) {0.74};
\node[insv] at (118.9,466.7) {0.80};
\node[insv] at (116.2,506.9) {1.0};
\end{tikzpicture}
\end{document}
